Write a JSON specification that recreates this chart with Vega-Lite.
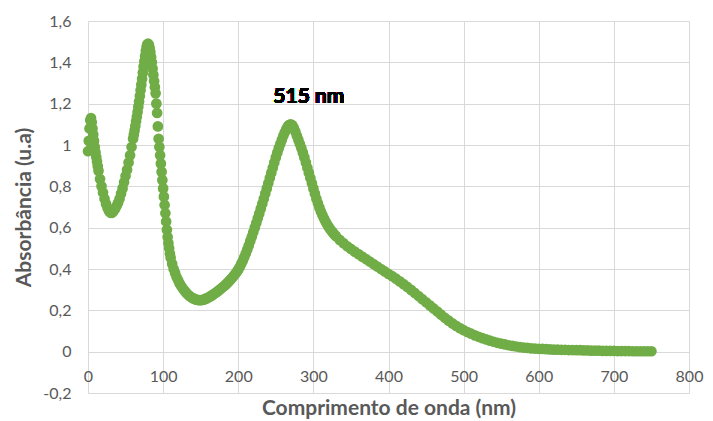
{
  "$schema": "https://vega.github.io/schema/vega-lite/v6.json",
  "width": 601,
  "height": 372,
  "autosize": {"type": "none"},
  "padding": {"left": 88, "top": 21, "right": 24, "bottom": 28},
  "background": "white",
  "config": {
    "font": "Lato",
    "view": {"stroke": null},
    "axis": {"gridColor": "#d9d9d9", "gridWidth": 1, "ticks": false, "labelColor": "#595959", "titleColor": "#595959", "labelFont": "Lato", "titleFont": "Lato"}
  },
  "data": {"values": [
    {"x":0,"y":0.97},{"x":1,"y":1.02},{"x":2,"y":1.08},{"x":3,"y":1.12},{"x":4,"y":1.13},{"x":5,"y":1.11},{"x":6,"y":1.08},{"x":7,"y":1.05},{"x":8,"y":1.02},{"x":9,"y":0.99},{"x":10,"y":0.965},
    {"x":11,"y":0.942},{"x":12,"y":0.92},{"x":13,"y":0.897},{"x":14,"y":0.875},{"x":16,"y":0.835},{"x":18,"y":0.8},{"x":20,"y":0.77},{"x":22,"y":0.74},{"x":24,"y":0.715},{"x":26,"y":0.695},{"x":28,"y":0.68},{"x":30,"y":0.672},
    {"x":32,"y":0.672},{"x":34,"y":0.68},{"x":36,"y":0.69},{"x":38,"y":0.705},{"x":40,"y":0.72},{"x":42,"y":0.74},{"x":44,"y":0.765},{"x":46,"y":0.79},{"x":48,"y":0.82},{"x":50,"y":0.85},
    {"x":52,"y":0.88},{"x":54,"y":0.915},{"x":56,"y":0.95},{"x":58,"y":0.99},{"x":60,"y":1.03},{"x":61,"y":1.05},{"x":62,"y":1.07},{"x":63,"y":1.092},{"x":64,"y":1.115},{"x":65,"y":1.137},{"x":66,"y":1.16},{"x":67,"y":1.185},{"x":68,"y":1.21},{"x":69,"y":1.237},{"x":70,"y":1.265},
    {"x":71,"y":1.292},{"x":72,"y":1.32},{"x":73,"y":1.35},{"x":74,"y":1.38},{"x":75,"y":1.405},{"x":76,"y":1.43},{"x":77,"y":1.455},{"x":78,"y":1.475},{"x":79,"y":1.487},{"x":80,"y":1.49},{"x":81,"y":1.485},{"x":82,"y":1.47},{"x":83,"y":1.45},
    {"x":84,"y":1.425},{"x":85,"y":1.4},{"x":86,"y":1.37},{"x":87,"y":1.34},{"x":88,"y":1.31},{"x":89,"y":1.28},{"x":90,"y":1.25},{"x":91,"y":1.2},{"x":92,"y":1.155},{"x":93,"y":1.09},
    {"x":94,"y":1.03},{"x":95,"y":0.99},{"x":96,"y":0.95},{"x":97,"y":0.91},{"x":98,"y":0.87},{"x":99,"y":0.83},{"x":100,"y":0.79},{"x":101,"y":0.75},{"x":102,"y":0.71},{"x":103,"y":0.67},
    {"x":104,"y":0.63},{"x":105,"y":0.59},{"x":106,"y":0.555},{"x":107,"y":0.525},{"x":108,"y":0.5},{"x":109,"y":0.475},{"x":110,"y":0.455},{"x":112,"y":0.425},{"x":114,"y":0.4},{"x":116,"y":0.38},
    {"x":118,"y":0.36},{"x":120,"y":0.345},{"x":122,"y":0.33},{"x":124,"y":0.318},{"x":126,"y":0.307},{"x":128,"y":0.297},{"x":130,"y":0.288},{"x":132,"y":0.28},{"x":134,"y":0.273},{"x":136,"y":0.267},
    {"x":138,"y":0.262},{"x":140,"y":0.258},{"x":142,"y":0.255},{"x":144,"y":0.252},{"x":146,"y":0.25},{"x":148,"y":0.249},{"x":150,"y":0.249},{"x":152,"y":0.25},{"x":154,"y":0.252},{"x":156,"y":0.255},
    {"x":158,"y":0.258},{"x":160,"y":0.262},{"x":162,"y":0.266},{"x":164,"y":0.27},{"x":166,"y":0.275},{"x":168,"y":0.28},{"x":170,"y":0.285},{"x":172,"y":0.29},{"x":174,"y":0.296},{"x":176,"y":0.302},
    {"x":178,"y":0.308},{"x":180,"y":0.314},{"x":182,"y":0.32},{"x":184,"y":0.327},{"x":186,"y":0.334},{"x":188,"y":0.342},{"x":190,"y":0.35},{"x":192,"y":0.358},{"x":194,"y":0.367},{"x":196,"y":0.376},
    {"x":198,"y":0.386},{"x":200,"y":0.397},{"x":202,"y":0.41},{"x":204,"y":0.425},{"x":206,"y":0.44},{"x":208,"y":0.457},{"x":210,"y":0.475},{"x":212,"y":0.494},{"x":214,"y":0.514},{"x":216,"y":0.535},
    {"x":218,"y":0.556},{"x":220,"y":0.578},{"x":222,"y":0.6},{"x":224,"y":0.622},{"x":226,"y":0.645},{"x":228,"y":0.668},{"x":230,"y":0.692},{"x":232,"y":0.716},{"x":234,"y":0.74},{"x":236,"y":0.765},
    {"x":238,"y":0.79},{"x":240,"y":0.815},{"x":242,"y":0.84},{"x":244,"y":0.865},{"x":246,"y":0.89},{"x":248,"y":0.915},{"x":250,"y":0.94},{"x":252,"y":0.963},{"x":254,"y":0.985},{"x":256,"y":1.005},
    {"x":258,"y":1.025},{"x":260,"y":1.045},{"x":262,"y":1.062},{"x":264,"y":1.077},{"x":266,"y":1.09},{"x":268,"y":1.098},{"x":270,"y":1.1},{"x":272,"y":1.095},{"x":274,"y":1.082},{"x":276,"y":1.065},
    {"x":278,"y":1.045},{"x":280,"y":1.025},{"x":282,"y":1.005},{"x":284,"y":0.985},{"x":286,"y":0.963},{"x":288,"y":0.94},{"x":290,"y":0.915},{"x":292,"y":0.89},{"x":294,"y":0.865},{"x":296,"y":0.84},
    {"x":298,"y":0.815},{"x":300,"y":0.79},{"x":302,"y":0.765},{"x":304,"y":0.74},{"x":306,"y":0.718},{"x":308,"y":0.697},{"x":310,"y":0.678},{"x":312,"y":0.661},{"x":314,"y":0.645},{"x":316,"y":0.631},
    {"x":318,"y":0.618},{"x":320,"y":0.606},{"x":322,"y":0.595},{"x":324,"y":0.585},{"x":326,"y":0.576},{"x":328,"y":0.567},{"x":330,"y":0.559},{"x":335,"y":0.541},{"x":340,"y":0.525},{"x":345,"y":0.51},
    {"x":350,"y":0.497},{"x":355,"y":0.484},{"x":360,"y":0.472},{"x":365,"y":0.46},{"x":370,"y":0.448},{"x":375,"y":0.436},{"x":380,"y":0.424},{"x":385,"y":0.412},{"x":390,"y":0.4},{"x":395,"y":0.388},
    {"x":400,"y":0.376},{"x":405,"y":0.365},{"x":410,"y":0.353},{"x":415,"y":0.34},{"x":420,"y":0.327},{"x":425,"y":0.313},{"x":430,"y":0.299},{"x":435,"y":0.284},{"x":440,"y":0.269},{"x":445,"y":0.254},
    {"x":450,"y":0.239},{"x":455,"y":0.224},{"x":460,"y":0.209},{"x":465,"y":0.194},{"x":470,"y":0.179},{"x":475,"y":0.164},{"x":480,"y":0.15},{"x":485,"y":0.137},{"x":490,"y":0.125},{"x":495,"y":0.114},
    {"x":500,"y":0.104},{"x":505,"y":0.095},{"x":510,"y":0.087},{"x":515,"y":0.079},{"x":520,"y":0.072},{"x":525,"y":0.065},{"x":530,"y":0.059},{"x":535,"y":0.053},{"x":540,"y":0.048},{"x":545,"y":0.043},
    {"x":550,"y":0.039},{"x":555,"y":0.035},{"x":560,"y":0.031},{"x":565,"y":0.028},{"x":570,"y":0.025},{"x":575,"y":0.022},{"x":580,"y":0.02},{"x":585,"y":0.018},{"x":590,"y":0.016},{"x":595,"y":0.015},
    {"x":600,"y":0.014},{"x":605,"y":0.013},{"x":610,"y":0.012},{"x":615,"y":0.011},{"x":620,"y":0.01},{"x":625,"y":0.01},{"x":630,"y":0.009},{"x":635,"y":0.009},{"x":640,"y":0.008},{"x":645,"y":0.008},
    {"x":650,"y":0.007},{"x":655,"y":0.007},{"x":660,"y":0.006},{"x":665,"y":0.006},{"x":670,"y":0.005},{"x":675,"y":0.005},{"x":680,"y":0.005},{"x":685,"y":0.004},{"x":690,"y":0.004},{"x":695,"y":0.004},
    {"x":700,"y":0.004},{"x":705,"y":0.003},{"x":710,"y":0.003},{"x":715,"y":0.003},{"x":720,"y":0.003},{"x":725,"y":0.002},{"x":730,"y":0.002},{"x":735,"y":0.002},{"x":740,"y":0.002},{"x":745,"y":0.002},{"x":750,"y":0.002}
  ]},
  "layer": [
    {
      "mark": {"type": "circle", "size": 115, "color": "#70AD47", "opacity": 1},
      "encoding": {
        "x": {"field": "x", "type": "quantitative",
          "scale": {"domain": [0, 800], "nice": false},
          "axis": {"values": [0,100,200,300,400,500,600,700,800], "offset": -41, "domain": true, "domainColor": "#d9d9d9",
            "labelFontSize": 16, "labelPadding": 16, "labelFlush": false, "title": "Comprimento de onda (nm)", "titleFontSize": 21, "titleFontWeight": "bold", "titlePadding": 13}},
        "y": {"field": "y", "type": "quantitative",
          "scale": {"domain": [-0.2, 1.6], "nice": false, "zero": false},
          "axis": {"values": [-0.2,0,0.2,0.4,0.6,0.8,1,1.2,1.4,1.6], "domain": false,
            "labelExpr": "replace(toString(round(datum.value*10)/10), '.', ',')",
            "labelFontSize": 16, "labelPadding": 17, "title": "Absorbância (u.a)", "titleFontSize": 21, "titleFontWeight": "bold", "titlePadding": 8}}
      }
    },
    {
      "mark": {"type": "text", "text": "515 nm", "font": "Lato", "fontSize": 21, "fontWeight": "bold", "color": "#000000"},
      "encoding": {"x": {"datum": 294}, "y": {"datum": 1.234}}
    }
  ]
}
